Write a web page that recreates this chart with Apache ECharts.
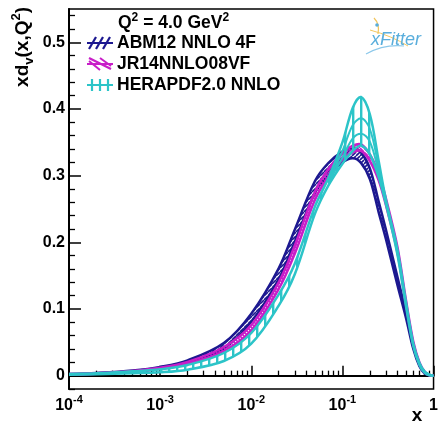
<!DOCTYPE html>
<html><head><meta charset="utf-8">
<script src="https://cdn.jsdelivr.net/npm/echarts@6/dist/echarts.min.js"></script>
<style>html,body{margin:0;padding:0;background:#fff}#c{width:441px;height:427px}</style>
</head><body><div id="c"></div>
<script>
// x grid (log-spaced reading points)
const X = [0.0001,0.0002,0.0005,0.001,0.002,0.005,0.01,0.02,0.03,0.05,0.07,0.1,0.13,0.16,0.2,0.25,0.3,0.4,0.5,0.6,0.7,0.8,0.9,1.0];
// ABM12 NNLO 4F band
const abmLo = [0.0015,0.003,0.0062,0.0108,0.019,0.041,0.081,0.145,0.201,0.274,0.301,0.320,0.326,0.319,0.295,0.245,0.205,0.137,0.086,0.040,0.014,0.003,0.0004,0];
const abmHi = [0.0025,0.0041,0.0078,0.0132,0.023,0.049,0.093,0.161,0.219,0.292,0.319,0.336,0.342,0.335,0.311,0.261,0.219,0.149,0.094,0.046,0.018,0.005,0.0012,0];
// JR14NNLO08VF band
const jrLo = [0.0016,0.003,0.006,0.0102,0.0175,0.037,0.068,0.130,0.183,0.264,0.298,0.324,0.335,0.337,0.322,0.293,0.256,0.186,0.106,0.047,0.017,0.004,0.0006,0];
const jrHi = [0.0024,0.0037,0.0071,0.0118,0.0205,0.043,0.076,0.140,0.195,0.276,0.310,0.334,0.345,0.347,0.332,0.303,0.266,0.194,0.112,0.051,0.020,0.006,0.0012,0];
// HERAPDF2.0 NNLO band
const heraLo = [0.0012,0.002,0.0035,0.005,0.009,0.022,0.048,0.105,0.152,0.243,0.285,0.318,0.337,0.345,0.332,0.298,0.258,0.183,0.103,0.044,0.016,0.004,0.0005,0];
const heraHi = [0.0025,0.0035,0.0065,0.0095,0.016,0.034,0.064,0.122,0.168,0.254,0.296,0.350,0.402,0.418,0.392,0.322,0.264,0.190,0.109,0.048,0.019,0.006,0.0015,0];
// HERAPDF inner variation curves near the peak
const X2 = [0.07,0.1,0.13,0.16,0.2,0.25,0.3];
const heraMidA = [0.292,0.337,0.376,0.386,0.370,0.313,0.262];
const heraMidB = [0.289,0.327,0.356,0.363,0.351,0.305,0.260];
// ticks
const xMajor = [0.0001,0.001,0.01,0.1,1];
const xMinor = [];
[0.0001,0.001,0.01,0.1].forEach(d=>{for(let k=2;k<=9;k++) xMinor.push(+(d*k).toPrecision(3));});
const yMajor = [0,0.1,0.2,0.3,0.4,0.5];
const yMinor = [-0.02,0.02,0.04,0.06,0.08,0.12,0.14,0.16,0.18,0.22,0.24,0.26,0.28,0.32,0.34,0.36,0.38,0.42,0.44,0.46,0.48,0.52,0.54];

const NAVY='#1c1890', MAG='#c81ec8', CYAN='#2cc4c8';
const FONT='Liberation Sans';

function hatch(color, kind){
  const c=document.createElement('canvas');
  const g=c.getContext('2d');
  if(kind==='v'){
    c.width=8;c.height=8;g.fillStyle=color;g.fillRect(0,0,2.4,8);
  } else {
    const s=4; c.width=s;c.height=s;
    g.strokeStyle=color; g.lineWidth=1.6;
    for(let o=-s;o<=s;o+=s){
      g.beginPath();
      if(kind==='/'){g.moveTo(o,s);g.lineTo(o+s,0);}else{g.moveTo(o,0);g.lineTo(o+s,s);}
      g.stroke();
    }
  }
  return {image:c,repeat:'repeat'};
}

function band(name, xs, lo, hi, color, pat, z){
  return {
    type:'custom', name:name, z:z, animation:false, silent:true,
    data:[[xs[0], lo[0]]],
    renderItem:function(params, api){
      const up=xs.map((x,i)=>api.coord([x,hi[i]]));
      const dn=xs.map((x,i)=>api.coord([x,lo[i]]));
      const poly=up.concat(dn.slice().reverse());
      return {type:'group',children:[
        {type:'polygon',shape:{points:poly,smooth:0.35},style:{fill:pat,stroke:null}},
        {type:'polyline',shape:{points:up,smooth:0.35},style:{stroke:color,lineWidth:2.5,fill:null}},
        {type:'polyline',shape:{points:dn,smooth:0.35},style:{stroke:color,lineWidth:2.5,fill:null}}
      ]};
    }
  };
}
function curve(xs, ys, color, z){
  return {type:'line', data:xs.map((x,i)=>[x,ys[i]]), showSymbol:false, smooth:0.35, z:z,
    lineStyle:{color:color,width:2}, animation:false, silent:true};
}

const chart=echarts.init(document.getElementById('c'),null,{renderer:'canvas'});
const labRich={
  b:{fontSize:16,fontWeight:'bold',fontFamily:FONT,color:'#000',lineHeight:20,verticalAlign:'bottom'},
  s:{fontSize:11,fontWeight:'bold',fontFamily:FONT,color:'#000',lineHeight:20,verticalAlign:'top'}
};
const tRich={
  a:{fontSize:19,fontWeight:'bold',fontFamily:FONT,fill:'#000',lineHeight:26,verticalAlign:'middle'},
  sub:{fontSize:13,fontWeight:'bold',fontFamily:FONT,fill:'#000',lineHeight:26,verticalAlign:'bottom'},
  sup:{fontSize:13,fontWeight:'bold',fontFamily:FONT,fill:'#000',lineHeight:26,verticalAlign:'top'}
};
const lRich={
  a:{fontSize:17.5,fontWeight:'bold',fontFamily:FONT,fill:'#000',lineHeight:22,verticalAlign:'middle'},
  sup:{fontSize:12,fontWeight:'bold',fontFamily:FONT,fill:'#000',lineHeight:22,verticalAlign:'top'}
};
function L(x1,y1,x2,y2,c,w){return {type:'line',shape:{x1,y1,x2,y2},style:{stroke:c,lineWidth:w||2},z:10};}

const graphics=[
  {type:'text',x:23,y:7,rotation:Math.PI/2,style:{text:'{a|xd}{sub|v}{a|(x,Q}{sup|2}{a|)}',rich:tRich,align:'right',verticalAlign:'middle'},z:10},
  {type:'text',x:417,y:416,style:{text:'x',font:'bold 19px '+FONT,fill:'#000',align:'center',verticalAlign:'middle'},z:10},
  {type:'text',x:118,y:23,style:{text:'{a|Q}{sup|2}{a| = 4.0 GeV}{sup|2}',rich:lRich,align:'left',verticalAlign:'middle'},z:10},
  {type:'text',x:117,y:43,style:{text:'ABM12 NNLO 4F',font:'bold 17.5px '+FONT,fill:'#000',align:'left',verticalAlign:'middle'},z:10},
  {type:'text',x:117,y:64,style:{text:'JR14NNLO08VF',font:'bold 17.5px '+FONT,fill:'#000',align:'left',verticalAlign:'middle'},z:10},
  {type:'text',x:117,y:85,style:{text:'HERAPDF2.0 NNLO',font:'bold 17.5px '+FONT,fill:'#000',align:'left',verticalAlign:'middle'},z:10},
  // legend symbols
  L(87,43,113,43,NAVY,2), L(89,49,96,37,NAVY,2.2), L(96,49,103,37,NAVY,2.2), L(103,49,110,37,NAVY,2.2),
  L(87,64,113,64,MAG,2), L(89,58,111,69,MAG,2.2), L(89,61,100,70,MAG,2), L(100,58,111,66,MAG,2),
  L(87,85,113,85,CYAN,2), L(92,79,92,91,CYAN,2.2), L(100,79,100,91,CYAN,2.2), L(108,79,108,91,CYAN,2.2),
  // xFitter logo
  {type:'text',x:396,y:40,style:{text:'xFitter',font:'italic 18px '+FONT,fill:'#5aaedc',align:'center',verticalAlign:'middle'},z:10},
  {type:'bezierCurve',shape:{x1:374,y1:18,cpx1:380,cpy1:24,x2:378,y2:34},style:{stroke:'#f2c45a',lineWidth:1.2,fill:null},z:9},
  {type:'bezierCurve',shape:{x1:370,y1:30,cpx1:392,cpy1:36,x2:408,y2:46},style:{stroke:'#f4c860',lineWidth:1,fill:null},z:9},
  {type:'bezierCurve',shape:{x1:366,y1:54,cpx1:384,cpy1:44,x2:404,y2:46},style:{stroke:'#8cc8ea',lineWidth:1.2,fill:null},z:9},
  {type:'circle',shape:{cx:377,cy:25,r:1.8},style:{fill:'#5aaedc'},z:9}
];

chart.setOption({
  animation:false,
  backgroundColor:'#fff',
  grid:{left:69,right:3,top:9,bottom:38,show:true,borderColor:'#000',borderWidth:1.5,backgroundColor:'transparent'},
  xAxis:[
    {type:'log',logBase:10,min:0.0001,max:1,position:'bottom',
     axisLine:{show:true,lineStyle:{color:'#000',width:2}},
     axisTick:{show:true,inside:true,length:10,customValues:xMajor,lineStyle:{color:'#000',width:1.5}},
     axisLabel:{show:true,margin:5,customValues:xMajor,rich:labRich,
       formatter:function(v){const e=Math.round(Math.log10(v)); return e===0?'{b|1}':'{b|10}{s|'+e+'}';}},
     splitLine:{show:false},minorTick:{show:false}},
    {type:'log',logBase:10,min:0.0001,max:1,position:'bottom',
     axisLine:{show:false},axisLabel:{show:false},splitLine:{show:false},
     axisTick:{show:true,inside:true,length:5,customValues:xMinor,lineStyle:{color:'#000',width:1.3}}}
  ],
  yAxis:[
    {type:'value',min:-0.02,max:0.55,position:'left',
     axisLine:{show:true,lineStyle:{color:'#000',width:2}},
     axisTick:{show:true,inside:true,length:12,customValues:yMajor,lineStyle:{color:'#000',width:1.5}},
     axisLabel:{show:true,margin:4,customValues:yMajor,fontSize:16,fontWeight:'bold',fontFamily:FONT,color:'#000',
       formatter:function(v){return Math.abs(v)<1e-9?'0':v.toFixed(1);}},
     splitLine:{show:false}},
    {type:'value',min:-0.02,max:0.55,position:'left',offset:0,
     axisLine:{show:false},axisLabel:{show:false},splitLine:{show:false},
     axisTick:{show:true,inside:true,length:6,customValues:yMinor,lineStyle:{color:'#000',width:1.3}}}
  ],
  series:[
    band('ABM12 NNLO 4F',X,abmLo,abmHi,NAVY,hatch(NAVY,'/'),2),
    band('JR14NNLO08VF',X,jrLo,jrHi,MAG,hatch(MAG,'\\'),3),
    band('HERAPDF2.0 NNLO',X,heraLo,heraHi,CYAN,hatch(CYAN,'v'),4),
    curve(X2,heraMidA,CYAN,5),
    curve(X2,heraMidB,CYAN,5)
  ],
  graphic:graphics
});
</script></body></html>
